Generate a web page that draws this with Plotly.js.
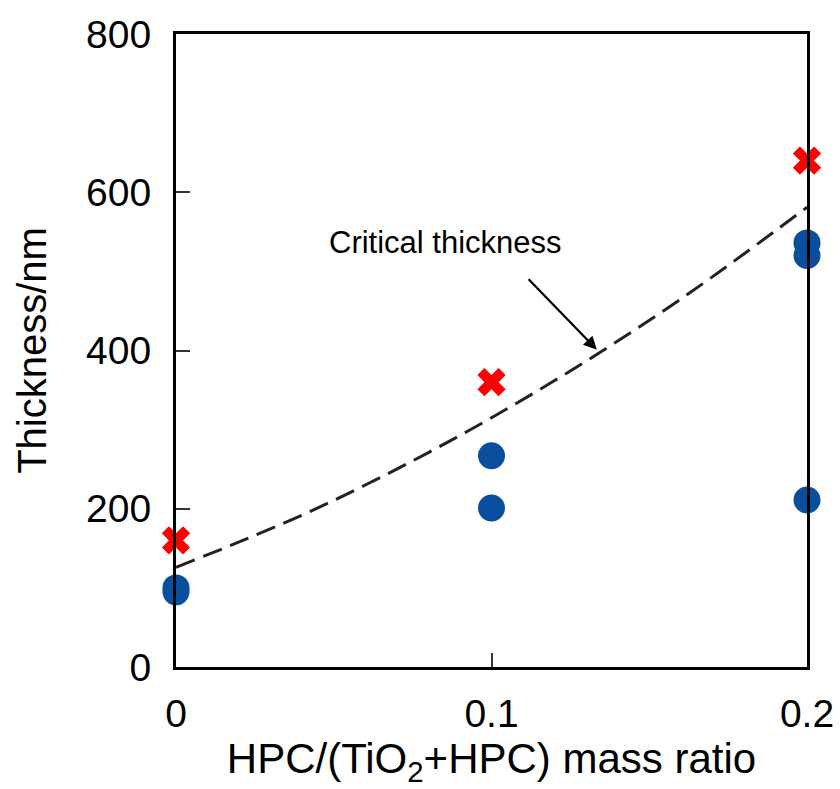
<!DOCTYPE html>
<html>
<head>
<meta charset="utf-8">
<script src="https://cdn.plot.ly/plotly-3.0.1.min.js"></script>
<style>html,body{margin:0;padding:0;background:#fff;}</style>
</head>
<body>
<div id="chart" style="width:840px;height:789px;"></div>
<script>
// Critical thickness (red crosses)
const critX = [0, 0.1, 0.2];
const critY = [160, 360, 640];
// Measured films (blue circles)
const filmX = [0, 0, 0.1, 0.1, 0.2, 0.2, 0.2];
const filmY = [100, 95, 267, 201, 536, 520, 211];
// Fitted critical-thickness curve (dashed)
const curveX = [0, 0.02, 0.04, 0.06, 0.08, 0.1, 0.12, 0.14, 0.16, 0.18, 0.2];
const curveY = [126, 158, 192, 230, 271, 315, 362, 412, 465, 522, 581];
// Tick labels
const xTicks = [0, 0.1, 0.2];
const xTickText = ["0", "0.1", "0.2"];
const yTicks = [0, 200, 400, 600, 800];

const font = "Liberation Sans, Arial, sans-serif";

const traces = [
  {x: curveX, y: curveY, mode: "lines", type: "scatter",
   line: {color: "#222", width: 3, dash: "20px,9px", shape: "spline"},
   hoverinfo: "skip", cliponaxis: false},
  {x: filmX, y: filmY, mode: "markers", type: "scatter",
   marker: {symbol: "circle", size: 27, color: "#0A4F9E"}, cliponaxis: false},
  {x: critX, y: critY, mode: "markers", type: "scatter",
   marker: {symbol: "x", size: 25, color: "#FF0000", line: {width: 0}}, cliponaxis: false}
];

const layout = {
  width: 840, height: 789,
  margin: {l: 176, r: 33, t: 34, b: 122},
  paper_bgcolor: "#fff", plot_bgcolor: "#fff",
  showlegend: false,
  font: {family: font, color: "#000", size: 40},
  xaxis: {
    range: [0, 0.2], tickvals: xTicks, ticktext: xTickText,
    ticks: "inside", ticklen: 14, tickwidth: 2, tickcolor: "#333",
    showline: true, linewidth: 3, linecolor: "#000", mirror: true,
    showgrid: false, zeroline: false,
    tickfont: {family: font, size: 39, color: "#000"},
    ticklabelstandoff: 10,
    title: {text: "HPC/(TiO<sub>2</sub>+HPC) mass ratio", font: {family: font, size: 42, color: "#000"}, standoff: 10}
  },
  yaxis: {
    range: [0, 800], tickvals: yTicks,
    ticks: "inside", ticklen: 14, tickwidth: 2, tickcolor: "#333",
    showline: true, linewidth: 3, linecolor: "#000", mirror: true,
    showgrid: false, zeroline: false,
    tickfont: {family: font, size: 39, color: "#000"},
    ticklabelstandoff: 14,
    title: {text: "Thickness/nm", font: {family: font, size: 40, color: "#000"}, standoff: 28}
  },
  annotations: [
    {x: 0.0853, y: 537, xref: "x", yref: "y", text: "Critical thickness",
     showarrow: false, font: {family: font, size: 31, color: "#000"}},
    {x: 0.1334, y: 401, ax: 0.1113, ay: 492, xref: "x", yref: "y", axref: "x", ayref: "y",
     text: "", showarrow: true, arrowhead: 2, arrowsize: 1.2, arrowwidth: 2.2, arrowcolor: "#000", standoff: 0}
  ]
};

Plotly.newPlot("chart", traces, layout, {displayModeBar: false, staticPlot: true});
</script>
</body>
</html>
